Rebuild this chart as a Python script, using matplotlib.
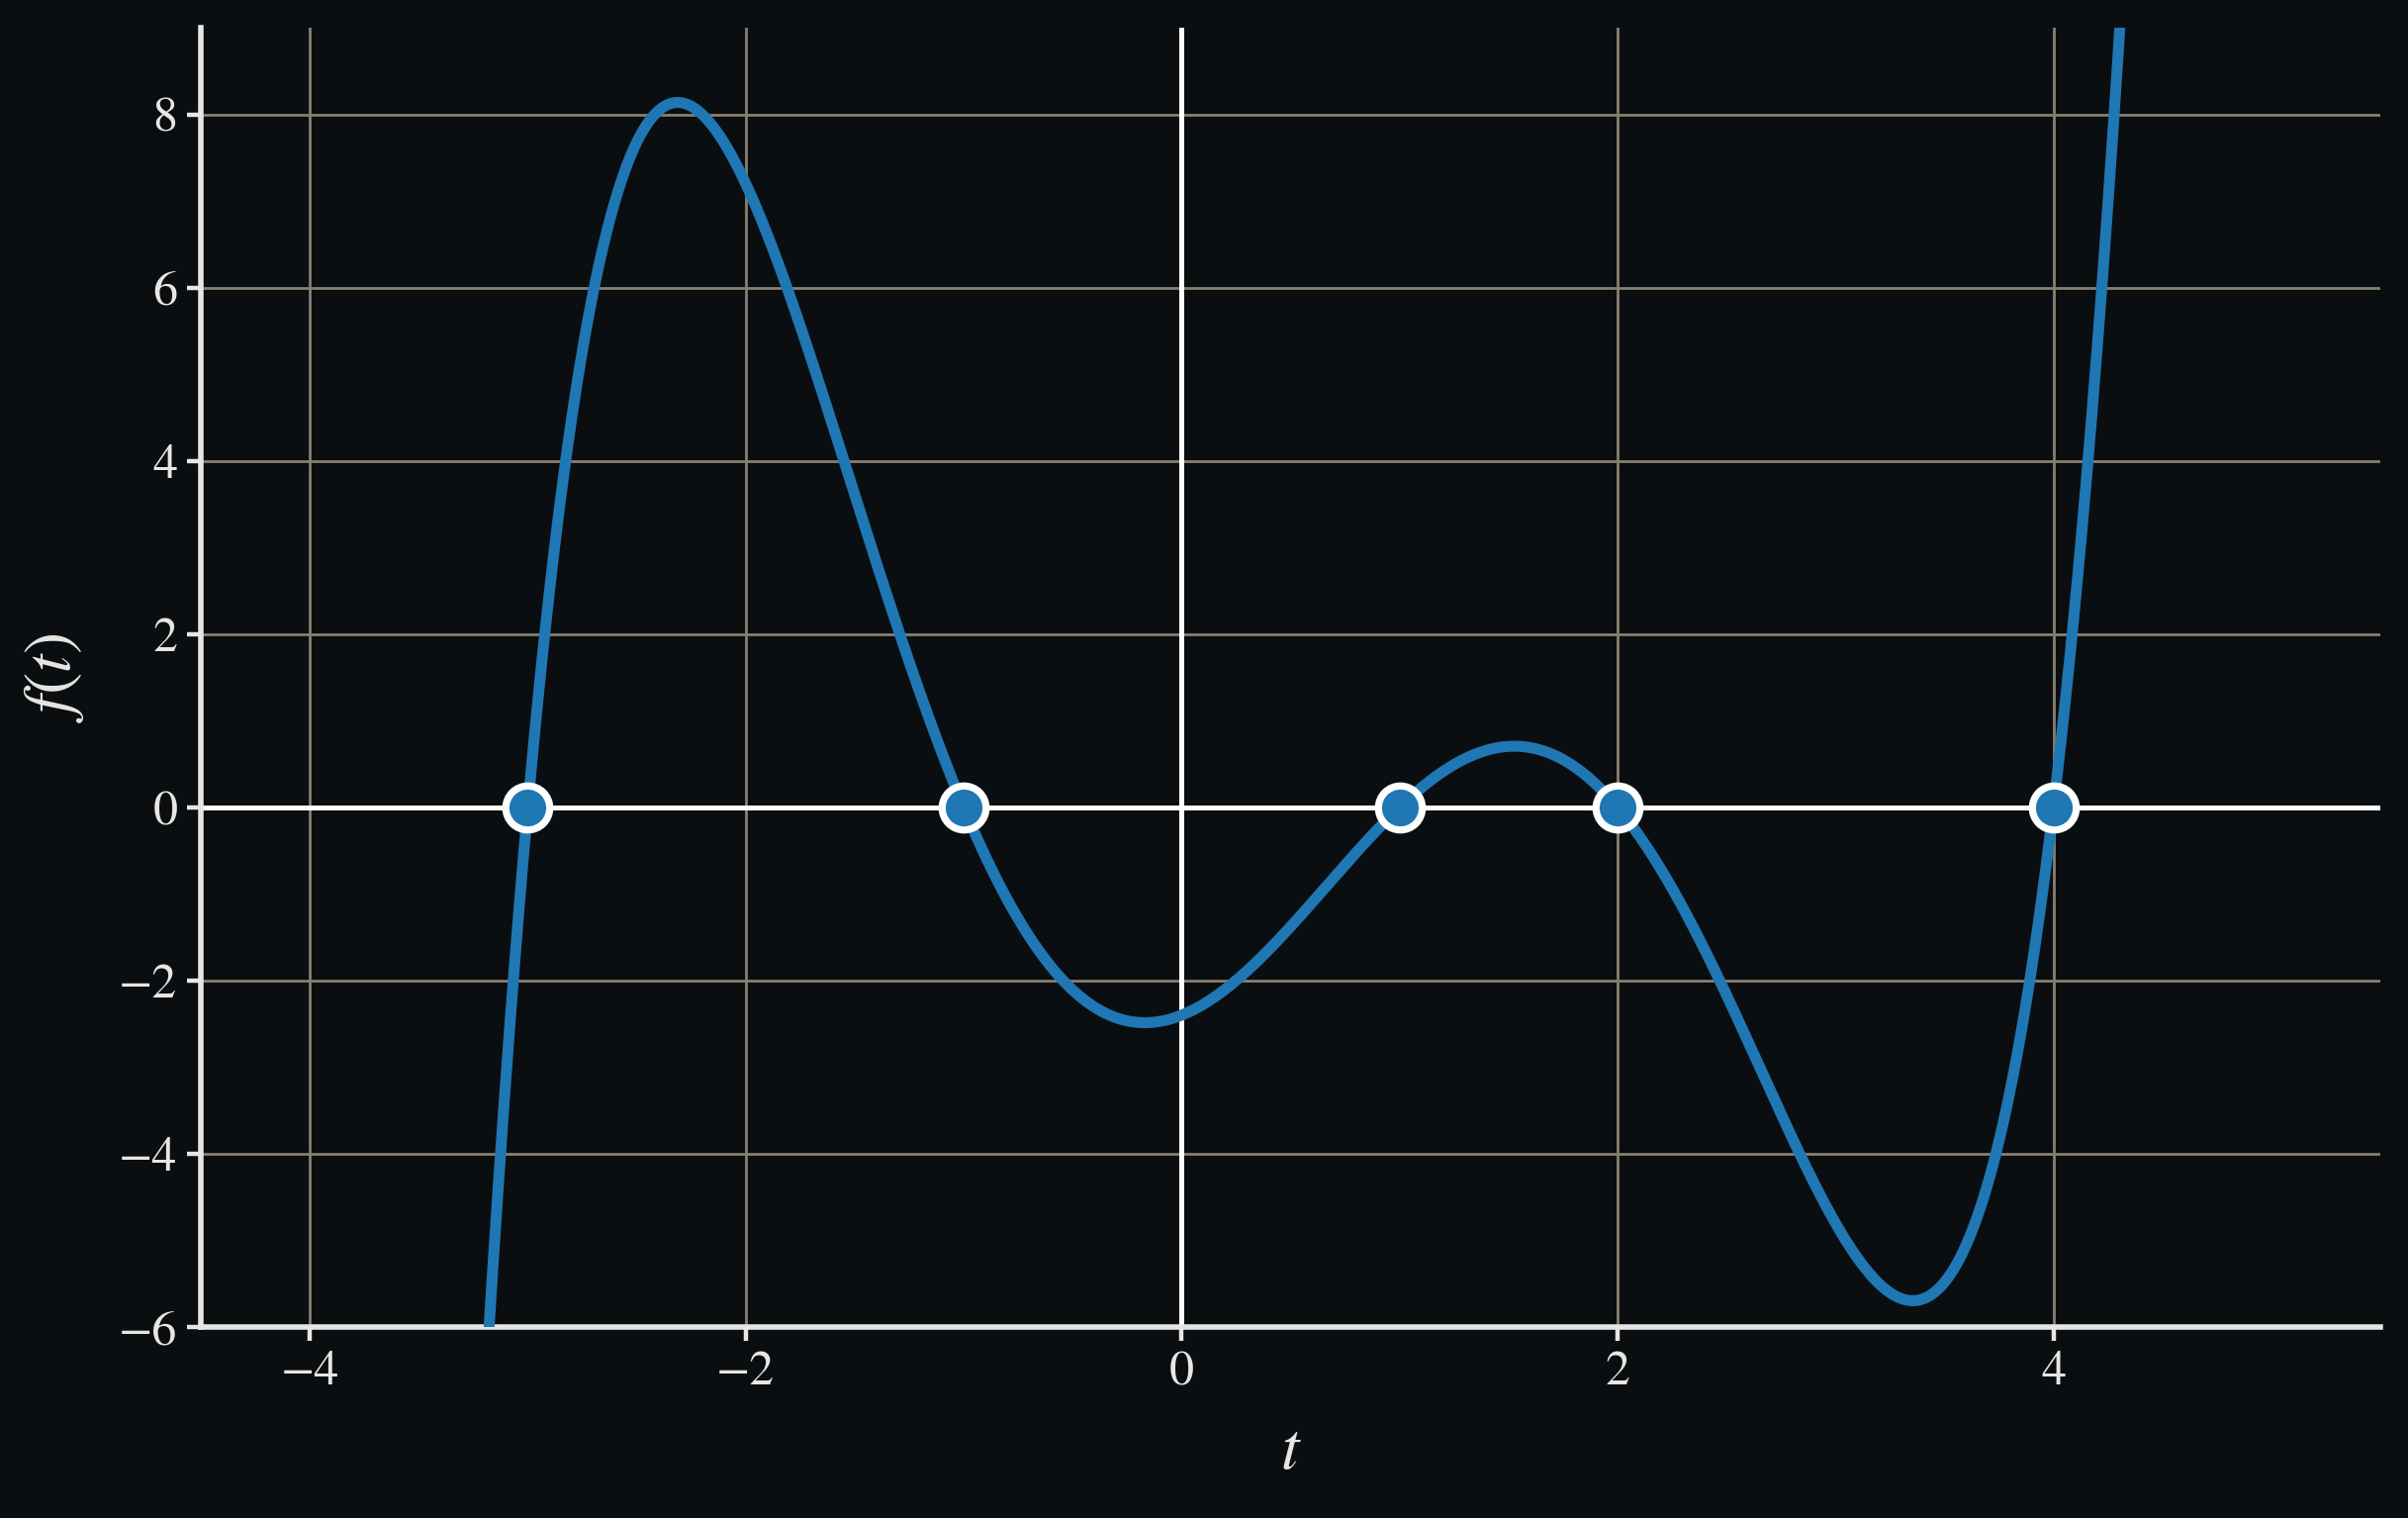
import numpy as np
import matplotlib
matplotlib.use("Agg")
import matplotlib.pyplot as plt

# roots, scale from f(0) ~ -2.4
roots = [-3, -1, 1, 2, 4]
scale = 0.1
root_vals = [0, 0, 0, 0, 0]
x_ticks = [-4, -2, 0, 2, 4]
y_ticks = [-6, -4, -2, 0, 2, 4, 6, 8]

bg = "#0b0e10"
fg = "#e8e6e3"
grid_col = "#878070"
blue = "#1f77b4"

plt.rcParams["font.family"] = ["STIXGeneral", "DejaVu Serif"]
plt.rcParams["mathtext.fontset"] = "stix"

t = np.linspace(-4.5, 5.5, 2000)
f = scale * np.polyval(np.poly(roots), t)

fig = plt.figure(figsize=(2434 / 200, 1534 / 200), dpi=200, facecolor=bg)
ax = fig.add_axes([203 / 2434, 1 - 1341 / 1534, (2406 - 203) / 2434, (1341 - 28) / 1534])
ax.set_facecolor(bg)
ax.set_axisbelow(True)

ax.grid(True, color=grid_col, lw=1.0)
ax.axhline(0, color="white", lw=1.8, zorder=2)
ax.axvline(0, color="white", lw=1.8, zorder=2)
ax.plot(t, f, color=blue, lw=4.0, zorder=3)
ax.plot(roots, root_vals, "o", ms=16, color=blue, mec="white", mew=2.6, zorder=4)

ax.set_xlim(-4.5, 5.5)
ax.set_ylim(-6, 9)
ax.set_xticks(x_ticks)
ax.set_yticks(y_ticks)

for s in ["top", "right"]:
    ax.spines[s].set_visible(False)
for s in ["left", "bottom"]:
    ax.spines[s].set_color(fg)
    ax.spines[s].set_linewidth(2.0)
ax.tick_params(colors=fg, labelsize=18, width=1.6, length=5)

ax.set_xlabel("$t$", color=fg, fontsize=24, labelpad=10)
ax.set_ylabel("$f(t)$", color=fg, fontsize=24, labelpad=12)

fig.savefig("out.png", dpi=200, facecolor=bg)
